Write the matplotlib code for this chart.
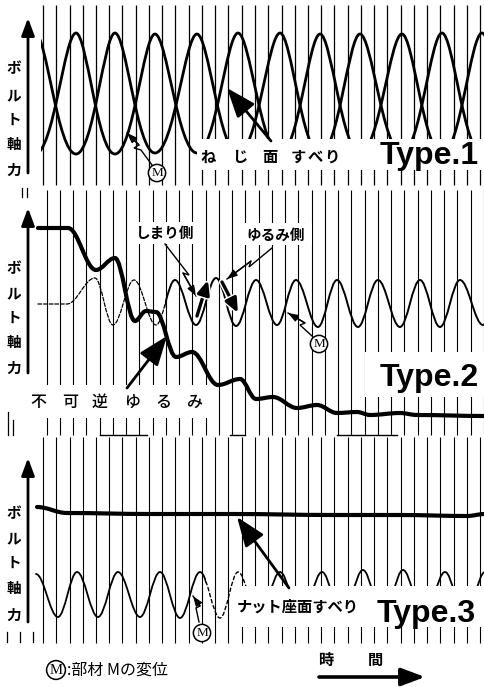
import matplotlib
matplotlib.use("Agg")
import matplotlib.pyplot as plt
from matplotlib.path import Path
from matplotlib.patches import PathPatch, Rectangle
import matplotlib.patheffects as pe

plt.rcParams['font.family'] = ['Noto Sans CJK JP', 'DejaVu Sans']

# ---------------- data (time in chart-marker intervals, relative amplitude) ----------------
marker_t = list(range(34))

# Type 1 : bolt axial force vs member displacement (antiphase), extrema only
type1_t = [-0.60, 2.49, 5.43, 8.45, 11.62, 14.72, 17.89, 20.91, 23.92, 27.09, 30.11, 33.13, 36.15]
type1_a = [36, 157, 36, 156, 37, 157, 36, 156, 37, 156, 36, 157, 36]
type1_b = [157, 36, 157, 37, 156, 36, 157, 36, 156, 37, 157, 36, 157]

# Type 2 : bolt axial force (irreversible loosening) and member displacement
type2_force_t = [-0.38, 1.89, 4.00, 5.43, 6.94, 7.77, 8.53, 10.04, 11.25, 13.21, 14.87, 16.08,
                 17.36, 19.17, 20.68, 22.19, 23.70, 24.68, 26.94, 28.23, 33.36]
type2_force_v = [209, 209, 167, 179, 116, 126, 125, 80, 85, 52, 58, 38,
                 40, 29, 32, 24, 25, 22, 24, 22, 21]
type2_disp_t = [-0.38, 1.81, 3.92, 5.28, 6.87, 8.53, 9.96, 11.55, 13.06, 14.57, 16.08, 17.66,
                19.09, 20.75, 22.19, 23.77, 25.28, 26.94, 28.45, 29.96, 31.47, 33.21, 34.49]
type2_disp_v = [133, 133, 159, 112, 157, 112, 157, 112, 159, 111, 157, 112,
                157, 110, 157, 110, 157, 110, 157, 110, 157, 112, 157]

# Type 3 : bolt axial force (nut bearing surface slip) and member displacement
type3_force_t = [-0.45, 1.81, 8.08, 14.34, 21.89, 26.94, 32.0, 33.36]
type3_force_v = [143, 137, 136, 136, 135, 135, 134, 136]
type3_disp_t = [-0.53, 1.13, 2.57, 4.15, 5.66, 7.32, 8.83, 10.34, 11.85, 13.36, 14.72, 16.30,
                17.89, 19.47, 21.06, 22.57, 24.15, 25.66, 27.17, 28.75, 30.34, 31.85, 33.36]
type3_disp_v = [76, 33, 78, 33, 78, 33, 78, 32, 78, 32, 78, 32,
                78, 32, 78, 32, 80, 32, 80, 32, 78, 32, 78]

y_label_chars = ["ボ", "ル", "ト", "軸", "力"]
type_labels = ["Type.1", "Type.2", "Type.3"]

# ---------------- figure ----------------
FW, FH = 485.0, 687.0
fig = plt.figure(figsize=(FW / 100, FH / 100), dpi=100)
fig.patch.set_facecolor('white')

X0, DX = 43.0, 13.25


def panel(top, bottom):
    ax = fig.add_axes([0, 1 - bottom / FH, 1, (bottom - top) / FH])
    ax.set_xlim(-X0 / DX, (FW - X0) / DX)
    ax.set_ylim(0, bottom - top)
    ax.axis('off')
    return ax


ax1 = panel(0, 190)
ax2 = panel(190, 437)
ax3 = panel(437, 650)


def smooth(ax, t, v, hi=0.363, lo=0.363, clip=None, **kw):
    verts = [(t[0], v[0])]
    codes = [Path.MOVETO]
    for i in range(len(t) - 1):
        t0, v0, t1, v1 = t[i], v[i], t[i + 1], v[i + 1]
        d = t1 - t0
        h0 = hi if v0 > v1 else lo
        h1 = hi if v1 > v0 else lo
        verts += [(t0 + h0 * d, v0), (t1 - h1 * d, v1), (t1, v1)]
        codes += [Path.CURVE4] * 3
    p = PathPatch(Path(verts, codes), fill=False, capstyle='round', joinstyle='round', **kw)
    ax.add_patch(p)
    if clip is not None:
        r = Rectangle((clip[0], -1000), clip[1] - clip[0], 3000, transform=ax.transData)
        p.set_clip_path(r)
    return p


# marker (time) lines
ax1.vlines(marker_t, 5, 185, color='k', lw=0.9, zorder=1)
ax2.vlines([m + 0.27 for m in marker_t], 2, 247, color='k', lw=0.8, zorder=1)
ax3.vlines(marker_t, 7, 213, color='k', lw=0.8, zorder=1)

# Type 1 curves
smooth(ax1, type1_t, type1_a, hi=0.28, lo=0.45, clip=(-0.15, 40), lw=2.0, ec='k', zorder=3)
smooth(ax1, type1_t, type1_b, hi=0.28, lo=0.45, clip=(-0.15, 40), lw=2.0, ec='k', zorder=3)

# Type 2 curves
smooth(ax2, type2_disp_t, type2_disp_v, clip=(-1, 9.2), lw=0.9, ec='k', linestyle=(0, (3, 1.5)), zorder=3)
smooth(ax2, type2_disp_t, type2_disp_v, clip=(9.2, 40), lw=1.4, ec='k', zorder=3)
smooth(ax2, type2_force_t, type2_force_v, lw=3.0, ec='k', zorder=4)

# Type 3 curves
smooth(ax3, type3_disp_t, type3_disp_v, clip=(-1, 12.3), lw=1.3, ec='k', zorder=3)
smooth(ax3, type3_disp_t, type3_disp_v, clip=(12.3, 15.6), lw=1.0, ec='k', linestyle=(0, (2.5, 2)), zorder=3)
smooth(ax3, type3_disp_t, type3_disp_v, clip=(15.6, 40), lw=1.3, ec='k', zorder=3)
smooth(ax3, type3_force_t, type3_force_v, lw=3.0, ec='k', zorder=4)

# ---------------- overlay (annotations in pixel coordinates) ----------------
ov = fig.add_axes([0, 0, 1, 1])
ov.set_xlim(0, FW)
ov.set_ylim(FH, 0)
ov.axis('off')

# white label boxes that interrupt the trace
for (x0, y0, x1, y1) in [(197, 139, 485, 170), (25, 385, 213, 418), (365, 352, 485, 397),
                         (133, 222, 197, 244), (240, 223, 312, 245), (232, 586, 485, 627)]:
    ov.add_patch(Rectangle((x0, y0), x1 - x0, y1 - y0, fc='white', ec='none', zorder=2))

# small extra marks
for (x, y0, y1) in [(22, 188, 197), (27, 188, 197), (8, 412, 435), (13, 420, 435),
                    (7, 632, 642), (20, 632, 642), (33, 632, 642)]:
    ov.plot([x, x], [y0, y1], color='k', lw=0.9, zorder=1)
for (x0, x1) in [(100, 147), (230, 245), (337, 397)]:
    ov.plot([x0, x1], [435, 435], color='k', lw=1.0, zorder=1)

# y axis arrows and labels
for (tip, bot, ys) in [(18, 173, [68, 95, 120, 144, 170]),
                       (208, 373, [268, 293, 318, 342, 368]),
                       (458, 622, [513, 538, 563, 588, 615])]:
    ov.annotate('', xy=(28, tip), xytext=(28, bot),
                arrowprops=dict(arrowstyle='-|>,head_length=0.75,head_width=0.28', lw=2.0,
                                color='k', mutation_scale=14, shrinkA=0, shrinkB=0), zorder=5)
    for ch, y in zip(y_label_chars, ys):
        ov.text(14, y, ch, fontsize=10.5, fontweight='bold', ha='center', va='center', zorder=6)

# Type labels
tfam = ['Liberation Sans', 'DejaVu Sans']
for lab, (x, y) in zip(type_labels, [(380, 164), (380, 386), (377, 622)]):
    ov.text(x, y, lab, fontsize=23, fontweight='bold', family=tfam, ha='left', va='baseline', zorder=6)

# Type 1 annotation
for ch, x in zip("ねじ面すべり", [208, 240, 270, 298, 315, 332]):
    ov.text(x, 157, ch, fontsize=11, fontweight='bold', ha='center', va='center', zorder=6)
big = dict(arrowstyle='-|>,head_length=1.0,head_width=0.38', lw=2.0, color='k',
           mutation_scale=18, shrinkA=0, shrinkB=0)
ov.annotate('', xy=(227, 88), xytext=(271, 141), arrowprops=big, zorder=5)


def leader(pts):
    xs = [p[0] for p in pts]
    ys = [p[1] for p in pts]
    ov.plot(xs, ys, color='k', lw=1.0, zorder=5, solid_joinstyle='miter')
    ov.annotate('', xy=pts[-1], xytext=pts[-2],
                arrowprops=dict(arrowstyle='-|>,head_length=0.6,head_width=0.22', lw=1.0,
                                color='k', mutation_scale=10, shrinkA=0, shrinkB=0), zorder=5)


def circ_m(x, y, fs=9.5):
    ov.text(x, y, 'M', fontsize=fs, family=['Liberation Serif'], ha='center', va='center', zorder=7,
            bbox=dict(boxstyle='circle,pad=0.2', fc='white', ec='k', lw=1.1))


leader([(152, 165), (141, 150), (134, 148), (139, 145), (127, 133)])
circ_m(157, 173)

# Type 2 annotations
ov.text(165, 233, "しまり側", fontsize=10.5, fontweight='bold', ha='center', va='center', zorder=6)
ov.text(276, 235, "ゆるみ側", fontsize=10.5, fontweight='bold', ha='center', va='center', zorder=6)
leader([(165, 244), (189, 275), (183, 273), (196, 296)])
leader([(272, 248), (249, 267), (251, 261), (227, 279)])
flank = dict(arrowstyle='-|>,head_length=0.7,head_width=0.3', lw=2.4, color='k',
             mutation_scale=12, shrinkA=0, shrinkB=0)
wfx = [pe.withStroke(linewidth=4.5, foreground='white')]
a = ov.annotate('', xy=(208, 280), xytext=(197, 316), arrowprops=flank, zorder=5)
a.arrow_patch.set_path_effects(wfx)
a = ov.annotate('', xy=(238, 313), xytext=(222, 282), arrowprops=flank, zorder=5)
a.arrow_patch.set_path_effects(wfx)

for ch, x in zip("不可逆ゆるみ", [38, 70, 100, 132, 163, 195]):
    ov.text(x, 402, ch, fontsize=11.5, fontweight='medium', ha='center', va='center', zorder=6)
ov.annotate('', xy=(167, 336), xytext=(127, 388), arrowprops=big, zorder=5)
leader([(312, 336), (300, 325), (305, 323), (288, 313)])
circ_m(319, 344)

# Type 3 annotations
ov.text(237, 607, "ナット座面すべり", fontsize=11, fontweight='bold', ha='left', va='center', zorder=6)
ov.annotate('', xy=(237, 517), xytext=(289, 588), arrowprops=big, zorder=5)
leader([(199, 622), (196, 608), (200, 606), (193, 596)])
circ_m(202, 633)

# legend & time axis
circ_m(56, 670, fs=10.5)
ov.text(67, 670, ":部材 Mの変位", fontsize=11.5, ha='left', va='center', zorder=6)
ov.text(326, 660, "時", fontsize=11, fontweight='bold', ha='center', va='center', zorder=6)
ov.text(375, 660, "間", fontsize=11, fontweight='bold', ha='center', va='center', zorder=6)
ov.annotate('', xy=(425, 677), xytext=(319, 677),
            arrowprops=dict(arrowstyle='-|>,head_length=0.8,head_width=0.3', lw=2.6, color='k',
                            mutation_scale=18, shrinkA=0, shrinkB=0), zorder=5)

fig.savefig('out.png', dpi=100, facecolor='white')
